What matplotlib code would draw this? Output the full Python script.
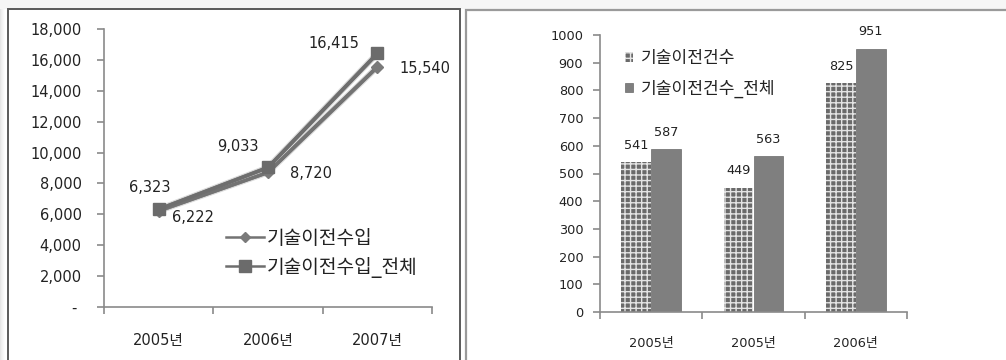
import matplotlib
matplotlib.use("Agg")
import matplotlib.pyplot as plt
import matplotlib.patheffects as pe
from matplotlib.patches import Rectangle
from matplotlib.ticker import FuncFormatter, FixedLocator
import numpy as np

plt.rcParams['font.family'] = ['DejaVu Sans', 'Noto Sans CJK KR']
plt.rcParams['hatch.linewidth'] = 1.0

# ---- data ----
line_years = ['2005년', '2006년', '2007년']
income = [6222, 8720, 15540]          # 기술이전수입
income_total = [6323, 9033, 16415]    # 기술이전수입_전체
line_names = ['기술이전수입', '기술이전수입_전체']

bar_years = ['2005년', '2005년', '2006년']
counts = [541, 449, 825]              # 기술이전건수
counts_total = [587, 563, 951]        # 기술이전건수_전체
bar_names = ['기술이전건수', '기술이전건수_전체']

W, H = 1006, 360
fig = plt.figure(figsize=(W / 100, H / 100), dpi=100)
fig.patch.set_facecolor('white')

def fx(px):
    return px / W

def fy(py):
    return 1 - py / H

# background decoration
fig.patches.append(Rectangle((0, fy(9)), 1, 9 / H, transform=fig.transFigure,
                             facecolor='#f6f6f6', edgecolor='none', zorder=-3))
for i, c in enumerate(['#e6e6e6', '#eeeeee', '#f3f3f3', '#f8f8f8', '#fcfcfc']):
    fig.patches.append(Rectangle((fx(i), 0), 1 / W, fy(9), transform=fig.transFigure,
                                 facecolor=c, edgecolor='none', zorder=-3))
# left panel frame
fig.patches.append(Rectangle((fx(7.5), fy(362)), fx(452), 353 / H, transform=fig.transFigure,
                             facecolor='white', edgecolor='#5a5a5a', lw=1.4, zorder=-2))
# right panel frame
fig.patches.append(Rectangle((fx(465.5), fy(362)), fx(560), 352 / H, transform=fig.transFigure,
                             facecolor='white', edgecolor='#9a9a9a', lw=1.6, zorder=-2))

text_color = '#222222'
spine_color = '#8a8a8a'
fs1 = 10.5
fs2 = 9.3

# ================= left: line chart =================
ax1 = fig.add_axes([fx(104), fy(307), fx(328), 278 / H])
ax1.set_facecolor('none')
x = np.arange(len(line_years))
halo = [pe.Stroke(linewidth=4.4, foreground='#d9d9d9'), pe.Normal()]
ax1.plot(x, income, color='#737373', lw=2.6, path_effects=halo, zorder=3)
ax1.plot(x, income_total, color='#6e6e6e', lw=2.6, path_effects=halo, zorder=4)
l1, = ax1.plot(x, income, color='#737373', lw=2.6, marker='D', ms=6.5,
               mfc='#7a7a7a', mec='#7a7a7a', zorder=5)
l2, = ax1.plot(x, income_total, color='#6e6e6e', lw=2.6, marker='s', ms=9,
               mfc='#6b6b6b', mec='#6b6b6b', zorder=6)
ax1.set_xlim(-0.5, len(line_years) - 0.5)
ax1.set_ylim(0, 18000)
ax1.set_yticks(np.arange(0, 18001, 2000))
ax1.yaxis.set_major_formatter(FuncFormatter(lambda v, p: '- ' if v == 0 else f'{int(v):,}'))
ax1.set_xticks(x)
ax1.set_xticklabels(line_years)
ax1.xaxis.set_minor_locator(FixedLocator([-0.5, 0.5, 1.5, 2.5]))
ax1.tick_params(axis='x', which='major', length=0, pad=19, labelsize=fs1, colors=text_color)
ax1.tick_params(axis='x', which='minor', length=5, direction='out', color=spine_color, width=1.2)
ax1.tick_params(axis='y', length=5, width=1.2, color=spine_color, pad=11, labelsize=fs1,
                colors=text_color)
for s in ['top', 'right']:
    ax1.spines[s].set_visible(False)
for s in ['left', 'bottom']:
    ax1.spines[s].set_color(spine_color)
    ax1.spines[s].set_linewidth(1.2)

offs_income = [(25, -5), (31, -1), (34, -1)]
offs_total = [(-6.5, 16), (-22, 15), (-31, 7)]
for i, v in enumerate(income):
    ax1.annotate(f'{v:,}', (x[i], v), xytext=offs_income[i], textcoords='offset points',
                 ha='center', va='center', fontsize=fs1, color=text_color)
for i, v in enumerate(income_total):
    ax1.annotate(f'{v:,}', (x[i], v), xytext=offs_total[i], textcoords='offset points',
                 ha='center', va='center', fontsize=fs1, color=text_color)

# legend handles: thinner proxies matching the series style
h1 = plt.Line2D([], [], color='#737373', lw=1.8, marker='D', ms=5.5, mfc='#7a7a7a', mec='#7a7a7a')
h2 = plt.Line2D([], [], color='#6e6e6e', lw=1.8, marker='s', ms=8, mfc='#6b6b6b', mec='#6b6b6b')
leg1 = ax1.legend([h1, h2], line_names, loc='upper left',
                  bbox_to_anchor=((226 - 104) / 328, 1 - (229 - 29) / 278),
                  frameon=False, fontsize=13.8, handlelength=2.0, handletextpad=0.15,
                  labelspacing=0.45, borderpad=0, borderaxespad=0)
for t in leg1.get_texts():
    t.set_color(text_color)

# ================= right: bar chart =================
ax2 = fig.add_axes([fx(600), fy(312), fx(307), 277 / H])
ax2.set_facecolor('none')
xb = np.arange(len(bar_years))
bw = 0.29
b1 = ax2.bar(xb - bw / 2, counts, bw, facecolor='#6a6a6a', edgecolor='#e4e4e4',
             hatch='+++', lw=0, label=bar_names[0], zorder=2)
b2 = ax2.bar(xb + bw / 2, counts_total, bw, facecolor='#7f7f7f', edgecolor='#6a6a6a',
             lw=0.5, label=bar_names[1], zorder=2)
ax2.set_xlim(-0.5, len(bar_years) - 0.5)
ax2.set_ylim(0, 1000)
ax2.set_yticks(np.arange(0, 1001, 100))
ax2.set_xticks(xb)
ax2.set_xticklabels(bar_years)
ax2.xaxis.set_minor_locator(FixedLocator([-0.5, 0.5, 1.5, 2.5]))
ax2.tick_params(axis='x', which='major', length=0, pad=18, labelsize=fs2, colors=text_color)
ax2.tick_params(axis='x', which='minor', length=5, direction='out', color=spine_color, width=1.2)
ax2.tick_params(axis='y', length=5, width=1.2, color=spine_color, pad=7, labelsize=fs2,
                colors=text_color)
for s in ['top', 'right']:
    ax2.spines[s].set_visible(False)
for s in ['left', 'bottom']:
    ax2.spines[s].set_color(spine_color)
    ax2.spines[s].set_linewidth(1.2)

for bars, vals in [(b1, counts), (b2, counts_total)]:
    for r, v in zip(bars, vals):
        ax2.annotate(f'{v}', (r.get_x() + r.get_width() / 2, v), xytext=(0, 12),
                     textcoords='offset points', ha='center', va='center', fontsize=fs2,
                     color=text_color)

leg2 = ax2.legend(loc='upper left', bbox_to_anchor=((625 - 600) / 307, 1 - (49 - 35) / 277),
                  frameon=False, fontsize=12.3, handlelength=0.47, handleheight=0.47,
                  handletextpad=0.45, labelspacing=0.72, borderpad=0, borderaxespad=0)
for t in leg2.get_texts():
    t.set_color(text_color)

fig.savefig('out.png', dpi=100)
